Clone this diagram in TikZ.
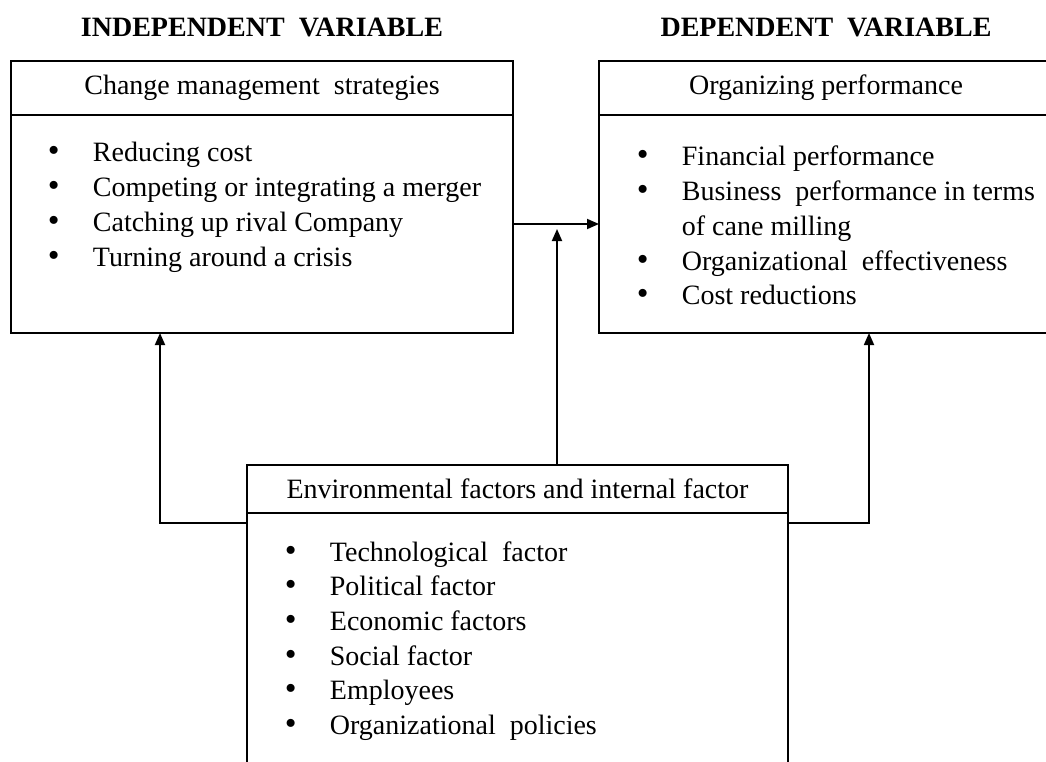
\documentclass[tikz,border=0pt]{standalone}
\usepackage{fontspec}
\setmainfont{Liberation Serif}
\usepackage{tikz}
\usetikzlibrary{arrows.meta, positioning}
\tikzset{>/.tip={Triangle[length=12pt,width=10pt]}}
\tikzset{box/.style={draw, line width=2pt, inner sep=0pt, outer sep=0pt}}
\tikzset{txt/.style={font=\fontsize{28}{34.7}\selectfont, inner sep=0pt}}
\tikzset{ttl/.style={font=\fontsize{28}{32}\selectfont\bfseries, inner sep=0pt}}
\newcommand{\blt}{\makebox[45pt][l]{\smash{\scalebox{1.2}{\textbullet}}}}

\begin{document}
\begin{tikzpicture}[line cap=butt,line join=miter,x=1pt,y=-1pt,line width=1.8pt]
\useasboundingbox (0,0) rectangle (1046,762);

% titles
\node[ttl, anchor=base] (indt) at (262,37) {INDEPENDENT\ \ VARIABLE};
\node[ttl, anchor=base] (dept) at (826,37) {DEPENDENT\ \ VARIABLE};

% left box
\node[box, txt, anchor=north west, minimum width=502pt, minimum height=54pt] (ivh) at (11,61) {Change management\ \ strategies};
\node[box, anchor=north, minimum width=502pt, minimum height=218pt, below=0pt of ivh] (ivb) {};
\node[txt, anchor=base west] (ivl) at (47,162) {\begin{tabular}[t]{@{}l@{}}
\blt Reducing cost\\
\blt Competing or integrating a merger\\
\blt Catching up rival Company\\
\blt Turning around a crisis
\end{tabular}};

% right box
\node[box, txt, anchor=north west, minimum width=454pt, minimum height=54pt] (dvh) at (599,61) {Organizing performance};
\node[box, anchor=north, minimum width=454pt, minimum height=218pt, below=0pt of dvh] (dvb) {};
\node[txt, anchor=base west] (dvl) at (636,166) {\begin{tabular}[t]{@{}l@{}}
\blt Financial performance\\
\blt Business\ \ performance in terms\\
\hspace*{45pt}of cane milling\\
\blt Organizational\ \ effectiveness\\
\blt Cost reductions
\end{tabular}};

% bottom box
\node[box, txt, anchor=north west, minimum width=541pt, minimum height=48pt] (envh) at (247,465) {Environmental factors and internal factor};
\node[box, anchor=north, minimum width=541pt, minimum height=330pt, below=0pt of envh] (envb) {};
\node[txt, anchor=base west] (envl) at (284,561) {\begin{tabular}[t]{@{}l@{}}
\blt Technological\ \ factor\\
\blt Political factor\\
\blt Economic factors\\
\blt Social factor\\
\blt Employees\\
\blt Organizational\ \ policies
\end{tabular}};

% arrows
\draw[->] (ivb.east) -- (dvb.west);
\draw[->] ([xshift=39.5pt]envh.north) -- ([xshift=39.5pt,yshift=-5pt]envh.north |- ivb.east);
\draw[->] ([yshift=-10pt]envb.north west) -| ([xshift=149pt]ivb.south west);
\draw[->] ([yshift=-10pt]envb.north east) -| ([xshift=270pt]dvb.south west);

\end{tikzpicture}
\end{document}
